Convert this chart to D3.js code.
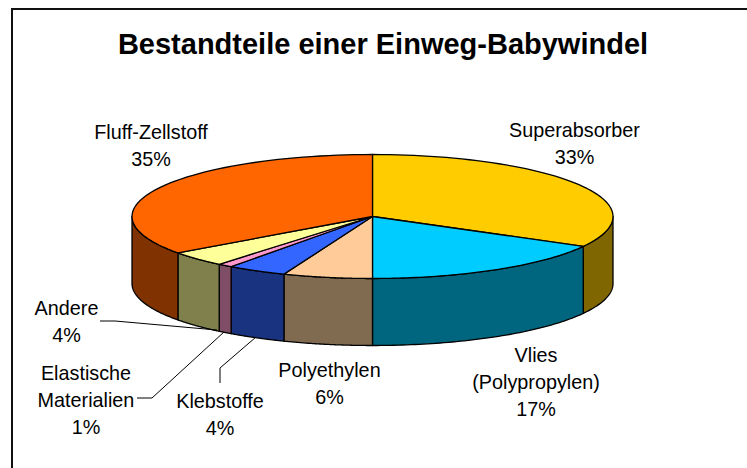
<!DOCTYPE html>
<html><head><meta charset="utf-8">
<script src="https://cdnjs.cloudflare.com/ajax/libs/d3/7.8.5/d3.min.js"></script>
<style>html,body{margin:0;padding:0;background:#fff}svg{display:block}
text{font-family:"Liberation Sans",Arial,sans-serif;fill:#000}</style></head><body>
<svg id="c" width="747" height="468"></svg>
<script>
const title = "Bestandteile einer Einweg-Babywindel";
const categories = ["Superabsorber","Vlies (Polypropylen)","Polyethylen","Klebstoffe","Elastische Materialien","Andere","Fluff-Zellstoff"];
const values = [33,17,6,4,1,4,35];
const topColors = ["#ffcc00","#00ccff","#ffcc99","#3366ff","#ff99cc","#ffff99","#ff6600"];
const sideColors = ["#806600","#006680","#806a50","#1a3380","#804d66","#80804d","#803300"];
const labelLines = [["Superabsorber","33%"],["Vlies","(Polypropylen)","17%"],["Polyethylen","6%"],["Klebstoffe","4%"],["Elastische","Materialien","1%"],["Andere","4%"],["Fluff-Zellstoff","35%"]];

const svg = d3.select("#c");
svg.append("path").attr("d",d3.line()([[12,468],[12,9],[747,9]]))
  .attr("fill","none").attr("stroke","#111").attr("stroke-width",2);
svg.append("text").attr("x",383).attr("y",54).attr("text-anchor","middle")
  .attr("font-size",29).attr("font-weight","bold").text(title);

const cx=372.5, cy=216.5, rx=240.5, ry=62, depth=67;
const sx=d3.scaleLinear().domain([-1,1]).range([cx-rx,cx+rx]);
const sy=d3.scaleLinear().domain([-1,1]).range([cy-ry,cy+ry]);
const pie=d3.pie().sort(null).value(d=>d)(values);
const pt=a=>[sx(Math.sin(a)),sy(-Math.cos(a))];
const line=d3.line();
const sample=(a0,a1)=>d3.range(0,61).map(i=>a0+(a1-a0)*i/60);
const g=svg.append("g").attr("stroke","#000").attr("stroke-width",1.3).attr("stroke-linejoin","round");

// side walls, only the front half is visible
const lo=Math.PI/2, hi=3*Math.PI/2;
pie.forEach((p,i)=>{
  const a0=Math.max(p.startAngle,lo), a1=Math.min(p.endAngle,hi);
  if(a1<=a0) return;
  const upper=sample(a0,a1).map(pt);
  const lower=upper.slice().reverse().map(q=>[q[0],q[1]+depth]);
  g.append("path").attr("d",line(upper.concat(lower))+"Z").attr("fill",sideColors[i]);
});
// top faces
pie.forEach((p,i)=>{
  const pts=[[cx,cy]].concat(sample(p.startAngle,p.endAngle).map(pt));
  g.append("path").attr("d",line(pts)+"Z").attr("fill",topColors[i]);
});

// leader lines
const leaders=[
  [[100,321],[115,321],[217,330]],
  [[137,398],[152,398],[224,332]],
  [[220,383],[220,368],[256,337]]
];
leaders.forEach(l=>svg.append("path").attr("d",line(l)).attr("fill","none").attr("stroke","#000").attr("stroke-width",1));

// labels: anchor x, first baseline
const labelPos=[[574.5,137],[536,362],[329.5,377],[220,408],[86,380],[66.5,315],[151,139]];
labelLines.forEach((ls,i)=>{
  const t=svg.append("text").attr("text-anchor","middle").attr("font-size",19.8);
  ls.forEach((s,j)=>t.append("tspan").attr("x",labelPos[i][0]).attr("y",labelPos[i][1]+j*27).text(s));
});
</script></body></html>
